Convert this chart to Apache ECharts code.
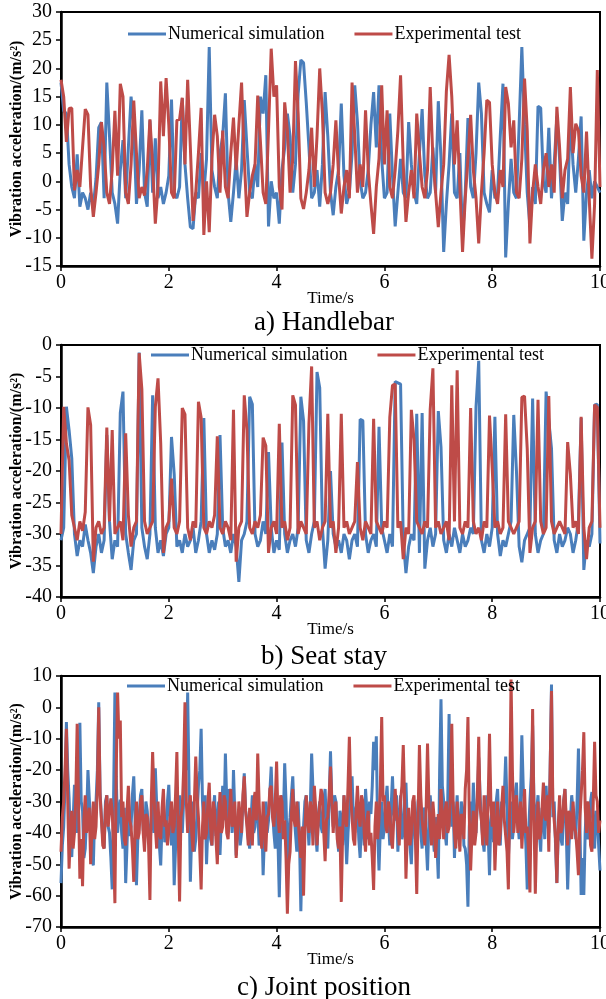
<!DOCTYPE html>
<html>
<head>
<meta charset="utf-8">
<script src="https://cdn.jsdelivr.net/npm/echarts@6/dist/echarts.min.js"></script>
<style>html,body{margin:0;padding:0;background:#fff}#c{width:606px;height:999px}</style>
</head>
<body>
<div id="c"></div>
<script>
// ---- data (0..10 s, evenly sampled) ----
const seriesNames = ['Numerical simulation', 'Experimental test'];
const captions = ['a) Handlebar', 'b) Seat stay', 'c) Joint position'];
const xTicks = [0, 2, 4, 6, 8, 10];

// a) Handlebar (201 samples)
const handleSim = [
17.5,12.5,12,3,-1,-3,4.8,-4.5,-2,-3,-5,-2,-4.5,0.5,9.5,10.5,-3,17.5,8,-2,
-4,-7.5,2,7.3,-3,6,15,9.6,-4,2,12.6,-2,-4.5,10.8,-2,7.6,-3,-1,-4,-2,
1,14.5,-2,-3,-1,14.7,3,-3,-8.1,-8.4,-2,-3,5,-2,4,23.8,2,-1,-3,5,
8,15.6,-2,-7.2,-2,4,-3,2,14.4,6,-2,-3,3,-1,15,12,18.8,-8,0,-3,
-2,-7.5,2,6,12,8,-2,3,15.5,21.5,21,14,6,-3,-2,2,-4.5,3,15.8,8,
-2,-6,-1,2,13.8,1,-4,-2,5,17,10.5,0,-3,-2,2,10,15.8,6,17,4,
-3,-2,12,1,-8,-2,4,-2,-3,10.5,3,-2,-4,5,12.8,1,-3,-2,6,-2,
14.2,4,-12.5,-4,3,12,-2,-3,5,-10,-2,11.2,-1,-3,5,17.5,12,-2,-4,-5.5,
2,-3,-2,8,17.3,-13.5,-4,4,-2,-3,10,23.8,10,-2,-8,-1,-4,13.3,13,0,
-2,9.5,-3,3,11.5,4,-7,-2,-4,12,3,-2,4,11.5,-10.5,-2,2,-3,0,-1,
-2];
const handleExp = [
18,15,7,12.9,13,-1.6,2,-1,6,12.8,11.8,-1,-6.3,-2,3,10.5,6,-2,-4,2,
12.5,1,17.3,15,-2,-4,3,14.3,5,-3,-1,-2.5,2,11,3,-7.5,-1,17.7,8,18.3,
10,-2,-3,10.8,11,14.8,3,18,6,-7,-2,5,13,-9.5,0,-9,4,11.8,8,-2,
9,-1,-3,5,11.3,2,10,17.5,4,-6.3,-2,1,3,15.2,7,-2,-4,9,23.5,15,
17,-1,-5,14,9,-2,4,21.3,12,-3,-4.9,-2,2,9.5,-1,8,20,12,-2,-4,
-2,3,10.8,1,-5.7,-1,2,-3,17.5,8,-2,3,-1,12.6,2,-4,-9.3,-1,4,17,
3,12.6,-1,-3,2,9,18.8,3,-7.2,-2,2,-3,12,5,-1,-3,2,16.7,4,-2,
-8.1,-2,3,16,22.4,15,3,10.8,-1,-12.5,-3,4,11.8,2,-3,-11,-2,5,14.4,14,
3,-2,-4,2,-1,16.7,13.8,6,10.8,-2,-3,4,18.2,9,-11,-2,3,-1,-4,2,
5,-1,3,-2,13.2,6,-3,2,4,16.7,5,10.2,9,1,-2,8.8,-3,-13.7,-4,19.7,
-1];

// b) Seat stay (201 samples)
const seatSim = [
-31,-29,-9.8,-13.5,-18,-30,-33.5,-31,-32,-28.5,-31,-33,-36.2,-32,-30,-33,-31,-14.3,-28,-34,
-31,-32,-10.8,-7.4,-30,-33,-35.7,-31,-30,-1.2,-29,-32,-34,-30,-8,-29,-33,-31,-33.5,-30,
-29,-14.6,-20.5,-32,-31,-33,-30,-32,-31,-29,-33,-31,-28,-11.6,-30,-33,-31,-32.5,-30,-14.3,
-29,-32,-31,-33,-30,-32,-37.6,-31,-30,-28,-8.2,-9.4,-30,-32,-31,-28,-30,-17,-29,-33,
-31,-32.5,-15.5,-30,-33,-31,-30,-32,-29,-8.2,-12,-31,-33,-30,-28,-4.3,-6.8,-29,-35.5,-31,
-20,-30,-32,-31,-33,-30,-31,-34,-31,-30,-32,-11.8,-12,-30,-33,-31,-30,-32,-13,-29,
-31,-33,-30,-32,-5.8,-6,-6.2,-31,-36.2,-32,-30,-31,-10.9,-33,-10.8,-35.5,-31,-29,-32,-30,
-10.5,-16.2,-31,-33,-30,-32,-29,-31,-33,-30,-32,-31,-29,-30,-9.8,-2.5,-31,-33,-30,-32,
-29,-11.4,-30,-33.5,-31,-32,-30,-28,-11.1,-20,-32,-34.5,-31,-30,-29,-8.5,-30,-33,-31,-30,
-7.4,-12,-16.4,-31,-33,-30,-32,-31,-29,-30,-33,-31,-28,-11.6,-35.7,-31,-32,-30,-9.5,-9.4,
-31.5];
const seatExp = [
-30,-9.8,-15.6,-18.3,-27,-29,-31,-28,-29.5,-26.5,-9.9,-12.7,-34.4,-29,-28,-30,-29,-13.1,-28,-13.5,
-30,-29,-28,-31,-14,-27,-32,-29,-28,-1.3,-7,-28,-30,-29,-28,-9.8,-5.3,-15.6,-33,-29,
-28,-21.2,-29,-30,-28,-10,-11,-29,-31,-28,-29,-9,-11.5,-29,-30,-28,-29,-27,-14.5,-29,
-30,-28,-29,-31,-10.3,-34.4,-29,-28,-8,-13.5,-29,-30,-28,-29,-27,-14.7,-16,-33,-29,-28,
-30,-12.5,-29,-28,-31,-29,-8,-9.5,-30,-28,-29,-30,-12.5,-3.4,-29,-28,-31,-29,-28,-10.9,
-29,-28,-33,-29,-10.9,-29,-28,-30,-29,-28,-18.6,-29,-31,-28,-29,-30,-11.7,-28,-29,-30,
-28,-29,-11.5,-6.4,-6.2,-29,-28,-34,-29,-30,-10.3,-15.1,-28,-29,-30,-28,-29,-10.2,-3.7,-29,
-28,-30,-29,-28,-31,-6.4,-28,-4,-29,-30,-28,-29,-10,-28,-30,-29,-31,-28,-29,-11.2,
-19.5,-29,-28,-30,-29,-11,-28,-29,-30,-29,-28,-8.3,-8.1,-16.5,-33,-29,-28,-8.7,-28,-30,
-29,-8.1,-28,-30,-29,-28,-29,-30,-15.4,-20.5,-29,-28,-30,-11.4,-29,-34,-29,-28,-9.5,-9.9,
-29];

// c) Joint position (401 samples)
const jointSim = [
-56,-44,-38,-25,-4.7,-20,-29,-42,-47.7,-36,-24.7,-31,-40,-26,-4.9,-30,-33,-48,-45,-35,-20,-29,-37.8,-46,-50.4,-34,-30,-20,1.6,-27,-35,-42,-45,-30,-28,-38,-40,-48,-58,-30,
4.7,-22,-40,-33,-29.4,-40,-45,-32,-56,-44,-30,-41,-38,-28,-22,-36,-56.7,-42,-35,-28,-26,-39,-42,-30,-33,-40,-45,-36,-28,-40,-19.4,-31,-38,-44,-50.4,-37,-30,-43,-40,-30,
-24.7,-37,-44,-33,-56.7,-45,-33,-40,-28,-36,-40,-30,-15,-20,4.7,-25,-55.6,-40,-30,-46,-42,-34,-25,-20,-6.8,-30,-38,-28,-50,-38,-30,-42,-44,-33,-28,-41,-36,-30,-47,-35,
-25,-36,-14.7,-30,-38,-26,-30,-40,-20,-34,-47.2,-38,-33,-44,-40,-30,-21,-33,-36,-42,-45,-36,-28,-40,-38,-29,-32,-44,-42,-35,-53.5,-41,-30,-40,-36,-27,-18.9,-33,-40,-45,
-33,-42,-60.5,-40,-28,-36,-17.8,-30,-49.3,-40,-35,-28,-22,-34,-40,-46,-30,-42,-65,-45,-38,-30,-28,-36,-44,-32,-14.7,-26,-35,-40,-46,-34,-30,-38,-40,-30,-26,-38,-45,-30,
-14,-30,-38,-28,-30,-40,-46,-33,-35,-44,-28,-38,-50,-40,-33,-27,-22,-36,-40,-32,-30,-42,-48,-35,-36,-44,-26,-33,-42,-30,-34,-25,-11,-20,-9.2,-40,-52,-38,-30,-42,
-38,-30,-25,-36,-44,-32,-22,-34,-36,-28,-46,-36,-28,-42,-40,-31,-24,-38,-35,-44,-50,-36,-30,-42,-38,-30,-27,-40,-45,-32,-33,-43,-52,-37,-28,-35,-40,-46,-35,-44,
-54.6,-20,2.6,-25,-30,-40,-44,-30,-2.1,-28,-38,-30,-48,-36,-28,-42,-40,-30,-32,-44,-45,-50,-63.5,-38,-30,-40,-24,-35,-40,-30,-16,-28,-36,-42,-46,-35,-28,-40,-53.5,-36,
-32,-43,-40,-30,-26,-38,-44,-30,-35,-28,-15.7,-32,-48,-38,-30,-42,-38,-28,-24,-36,-42,-30,-8.9,-25,-35,-44,-58,-40,-30,-22,-5.8,-30,-40,-33,-28,-40,-46,-32,-34,-42,
-25,-35,-40,-20,7.3,-35,-30,-44,-56,-40,-32,-42,-44,-30,-26,-40,-58,-44,-36,-28,-28,-38,-42,-30,-13.1,-35,-59.8,-48,-59.8,-40,-30,-42,-40,-30,-27,-38,-45,-33,-35,-44,
-52];
const jointExp = [
-46,-35,-30,-20,-6.8,-30,-51.4,-40,-33,-45,-40,-28,-5.2,-30,-54.6,-42,-57,-36,-28,-40,-40,-32,-50,-38,-30,-42,-38,-25,0,-28,-35.7,-44,-45,-32,-28,-38,-38,-29,-33,-45,
-62.4,-20,4.7,-10,-4.2,-35,-30,-42,-44,-33,-25,-36,-38,-45,-55.6,-38,-30,-42,-40,-30,-28,-40,-46,-34,-35,-44,-61.4,-30,-14.2,-28,-38,-45,-30,-40,-42,-32,-26,-38,-36,-44,
-44,-35,-30,-40,-38,-28,-14.2,-40,-61.9,-35,-32,-20,1.6,-30,-40,-32,-28,-40,-46,-30,-15.7,-28,-35,-46,-58,-38,-30,-42,-40,-30,-24,-38,-44,-30,-33,-42,-50,-36,-27,-40,
-38,-28,-30,-40,-42,-34,-26,-38,-36,-30,-48,-40,-30,-35,-40,-28,-22,-33,-38,-44,-32,-40,-44,-30,-27,-36,-14.7,-30,-40,-45,-30,-38,-46,-35,-34,-26,-25,-35,-38,-30,
-17.3,-35,-40,-28,-30,-42,-36,-48,-65.8,-50,-46,-34,-26,-36,-38,-30,-30,-42,-48,-38,-60,-40,-28,-36,-40,-30,-33,-44,-25,-32,-44,-36,-36,-26,-28,-40,-49,-36,-35,-28,
-18.9,-30,-40,-32,-30,-42,-45,-38,-62,-40,-28,-36,-38,-25,-9.4,-28,-35,-42,-44,-33,-25,-35,-38,-28,-30,-40,-46,-36,-33,-44,-40,-48,-58.2,-38,-30,-42,-36,-25,-3.1,-30,
-28,-38,-40,-30,-33,-42,-45,-35,-26,-34,-38,-44,-30,-25,-12,-30,-54.6,-40,-32,-44,-40,-30,-28,-42,-59.5,-35,-12,-28,-36,-40,-44,-32,-11.5,-30,-38,-44,-30,-36,-48,-40,
-34,-42,-26,-35,-42,-33,-30,-40,-38,-28,-5.2,-30,-40,-45,-30,-38,-46,-34,-35,-42,-26,-20,-3.1,-35,-52,-40,-33,-44,-40,-28,-9.4,-32,-36,-44,-28,-38,-44,-30,-8.4,-30,
-38,-30,-52,-40,-30,-44,-40,-32,-25,-36,-36,-46,-58,-30,8.9,-20,-40,-33,-28,-40,-36,-30,-45,-36,-26,-40,-38,-46,-59,-30,-0.5,-35,-59.4,-40,-30,-42,-40,-32,-24,-35,
-36,-28,-46,-20,5.2,-30,-30,-42,-56,-38,-28,-40,-38,-30,-26,-36,-44,-33,-35,-42,-30,-38,-40,-46,-53.5,-36,-28,-20,-7.9,-32,-40,-30,-33,-44,-46,-30,-11,-28,-30,-40,
-36];

// y-axis ranges per panel
const yMin = [-15, -40, -70];
const yMax = [30, 0, 10];
const yStep = [5, 5, 10];

// ---- build chart ----
const T_END = xTicks[xTicks.length - 1];
const pair = arr => arr.map((v, i) => [i * T_END / (arr.length - 1), v]);

const FONT = '"Liberation Serif", "Times New Roman", serif';
const BLUE = '#4a7ebb';
const RED = '#be4b48';

const grids = [
  {left: 61, top: 12, width: 539, height: 254},
  {left: 61, top: 345, width: 539, height: 252},
  {left: 61, top: 676, width: 539, height: 251}
];
const legendPos = [{left: 128, top: 25}, {left: 151, top: 346}, {left: 127, top: 677}];
const captionY = [323, 657, 988];
const panels = [[handleSim, handleExp], [seatSim, seatExp], [jointSim, jointExp]];

const option = {
  animation: false,
  backgroundColor: '#fff',
  grid: grids.map(g => Object.assign({show: true, borderColor: '#000', borderWidth: 2, backgroundColor: 'transparent', containLabel: false, outerBoundsMode: 'none'}, g)),
  xAxis: grids.map((g, k) => ({
    gridIndex: k, type: 'value', min: xTicks[0], max: T_END, interval: 2,
    name: 'Time/s', nameLocation: 'middle', nameGap: 24, nameMoveOverlap: false,
    nameTextStyle: {fontFamily: FONT, fontSize: 17, color: '#000'},
    axisLine: {onZero: false, lineStyle: {color: '#000', width: 2.5}},
    axisTick: {show: true, inside: false, length: 5, lineStyle: {color: '#000', width: 1.5}},
    axisLabel: {fontFamily: FONT, fontSize: 20, color: '#000', margin: 7},
    splitLine: {show: false}
  })),
  yAxis: grids.map((g, k) => ({
    gridIndex: k, type: 'value', min: yMin[k], max: yMax[k], interval: yStep[k],
    name: 'Vibration acceleration/(m/s²)', nameLocation: 'middle', nameGap: 36, nameMoveOverlap: false,
    nameTextStyle: {fontFamily: FONT, fontSize: 16, fontWeight: 'bold', color: '#000'},
    axisLine: {onZero: false, lineStyle: {color: '#000', width: 2.5}},
    axisTick: {show: true, inside: false, length: 5, lineStyle: {color: '#000', width: 1.5}},
    axisLabel: {fontFamily: FONT, fontSize: 20, color: '#000', margin: 9},
    splitLine: {show: false}
  })),
  legend: legendPos.map(p => ({
    left: p.left, top: p.top, padding: 0, data: seriesNames, itemGap: 30,
    icon: 'rect', itemWidth: 38, itemHeight: 3,
    textStyle: {fontFamily: FONT, fontSize: 18, color: '#000', padding: [0, 0, 0, -3]},
    selectedMode: false
  })),
  series: [],
  graphic: captions.map((c, k) => ({
    type: 'text', z: 100, x: 324, y: captionY[k],
    style: {text: c, font: '27px ' + FONT, fill: '#000', textAlign: 'center', textVerticalAlign: 'middle'}
  }))
};
panels.forEach((pp, k) => {
  pp.forEach((arr, j) => {
    option.series.push({
      name: seriesNames[j], type: 'line', xAxisIndex: k, yAxisIndex: k,
      data: pair(arr), showSymbol: false, symbol: 'none', smooth: false,
      lineStyle: {color: j === 0 ? BLUE : RED, width: 3},
      itemStyle: {color: j === 0 ? BLUE : RED},
      z: 2 + j
    });
  });
});
const chart = echarts.init(document.getElementById('c'));
chart.setOption(option);
</script>
</body>
</html>
